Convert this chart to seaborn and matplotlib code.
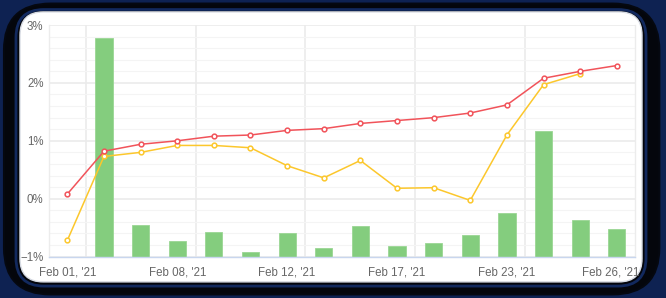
import numpy as np
import pandas as pd
import matplotlib
matplotlib.use("Agg")
import matplotlib.pyplot as plt
import matplotlib.transforms as mtransforms
from matplotlib.patches import FancyBboxPatch
from matplotlib.ticker import MultipleLocator, FuncFormatter
import seaborn as sns

# trading days shown on the category axis (every 3rd one is labelled)
dates = ["Feb 01, '21", "Feb 02, '21", "Feb 04, '21", "Feb 08, '21", "Feb 09, '21",
         "Feb 10, '21", "Feb 12, '21", "Feb 15, '21", "Feb 16, '21", "Feb 17, '21",
         "Feb 18, '21", "Feb 22, '21", "Feb 23, '21", "Feb 24, '21", "Feb 25, '21",
         "Feb 26, '21"]

# red series (%)
red_vals = [0.08, 0.82, 0.94, 1.00, 1.08, 1.10, 1.18, 1.21, 1.30, 1.35,
            1.40, 1.48, 1.62, 2.08, 2.20, 2.30]
# yellow series (%), no value on the last day
yellow_vals = [-0.72, 0.73, 0.80, 0.92, 0.92, 0.88, 0.57, 0.36, 0.66, 0.18,
               0.19, -0.03, 1.10, 1.97, 2.16, np.nan]
# green bars (top of bar, drawn up from the bottom of the axis), none on the first day
bar_tops = [np.nan, 2.78, -0.46, -0.73, -0.58, -0.92, -0.60, -0.86, -0.48, -0.81,
            -0.77, -0.62, -0.25, 1.17, -0.36, -0.53]

ymin, ymax = -1, 3

df = pd.DataFrame({"i": range(len(dates)), "date": dates, "red": red_vals,
                   "yellow": yellow_vals, "bar": bar_tops})

sns.set_style("white")
plt.rcParams["font.family"] = ["Liberation Sans", "DejaVu Sans"]

fig = plt.figure(figsize=(6.66, 2.98), dpi=100)
fig.patch.set_facecolor("#0e2252")

# dark frame with a faint blue glow, then the white rounded panel
frame = FancyBboxPatch((0.006, 0.012), 0.984, 0.976, boxstyle="round,pad=0,rounding_size=0.07",
                       transform=fig.transFigure, facecolor="#04060c", edgecolor="#050810",
                       linewidth=1.5, zorder=0, mutation_aspect=666 / 298)
fig.patches.append(frame)
glow = FancyBboxPatch((0.024, 0.040), 0.946, 0.928, boxstyle="round,pad=0,rounding_size=0.042",
                      transform=fig.transFigure, facecolor="none", edgecolor="#12295e",
                      linewidth=2.0, zorder=0.5, mutation_aspect=666 / 298)
fig.patches.append(glow)
panel = FancyBboxPatch((0.030, 0.054), 0.934, 0.906, boxstyle="round,pad=0,rounding_size=0.035",
                       transform=fig.transFigure, facecolor="white", edgecolor="#d8dce4",
                       linewidth=1.0, zorder=1, mutation_aspect=666 / 298)
fig.patches.append(panel)

ax = fig.add_axes([0.0736, 0.139, 0.88, 0.777])
ax.set_facecolor("white")
ax.set_zorder(2)

bars = df.dropna(subset=["bar"])
ax.bar(bars["i"], bars["bar"] - ymin, bottom=ymin, width=0.47,
       color="#84cd7e", edgecolor="#9ad694", linewidth=0.6, zorder=2)

sns.lineplot(data=df, x="i", y="yellow", ax=ax, color="#fcc72c", linewidth=1.1,
             marker="o", markersize=3.4, markerfacecolor="white",
             markeredgecolor="#fcc72c", markeredgewidth=1.1, zorder=3)
sns.lineplot(data=df, x="i", y="red", ax=ax, color="#f1535a", linewidth=1.1,
             marker="o", markersize=3.4, markerfacecolor="white",
             markeredgecolor="#f1535a", markeredgewidth=1.1, zorder=4)

ax.set_xlim(-0.5, len(dates) - 0.5)
ax.set_ylim(ymin, ymax)

ax.set_xticks(df["i"][::3])
ax.set_xticklabels(df["date"][::3])
ax.set_xticks(np.arange(0.5, len(dates) - 1, 3), minor=True)
ax.yaxis.set_major_locator(MultipleLocator(1))
ax.yaxis.set_minor_locator(MultipleLocator(0.2))
ax.yaxis.set_major_formatter(FuncFormatter(lambda v, p: f"{v:.0f}%".replace("-", "\u2212")))

ax.grid(which="major", axis="y", color="#ebebeb", linewidth=1.2, zorder=0)
ax.grid(which="minor", axis="y", color="#f4f4f4", linewidth=0.8, zorder=0)
ax.grid(which="minor", axis="x", color="#ebebeb", linewidth=1.2, zorder=0)
ax.set_axisbelow(True)

ax.tick_params(axis="both", which="both", length=0, colors="#666666", labelsize=8.3)
ax.tick_params(axis="x", pad=7)
ax.tick_params(axis="y", pad=4)
ax.spines["top"].set_visible(False)
for s in ["left", "right"]:
    ax.spines[s].set_color("#ececec")
    ax.spines[s].set_linewidth(1.0)
ax.spines["bottom"].set_color("#c8d6ee")
ax.spines["bottom"].set_linewidth(1.0)
ax.set_xlabel("")
ax.set_ylabel("")

# last date label is nudged left so it stays inside the plot, as in the original
last = ax.get_xticklabels()[-1]
last.set_transform(last.get_transform() + mtransforms.ScaledTranslation(-6 / 100, 0, fig.dpi_scale_trans))

fig.savefig("out.png", dpi=100, facecolor=fig.get_facecolor())
